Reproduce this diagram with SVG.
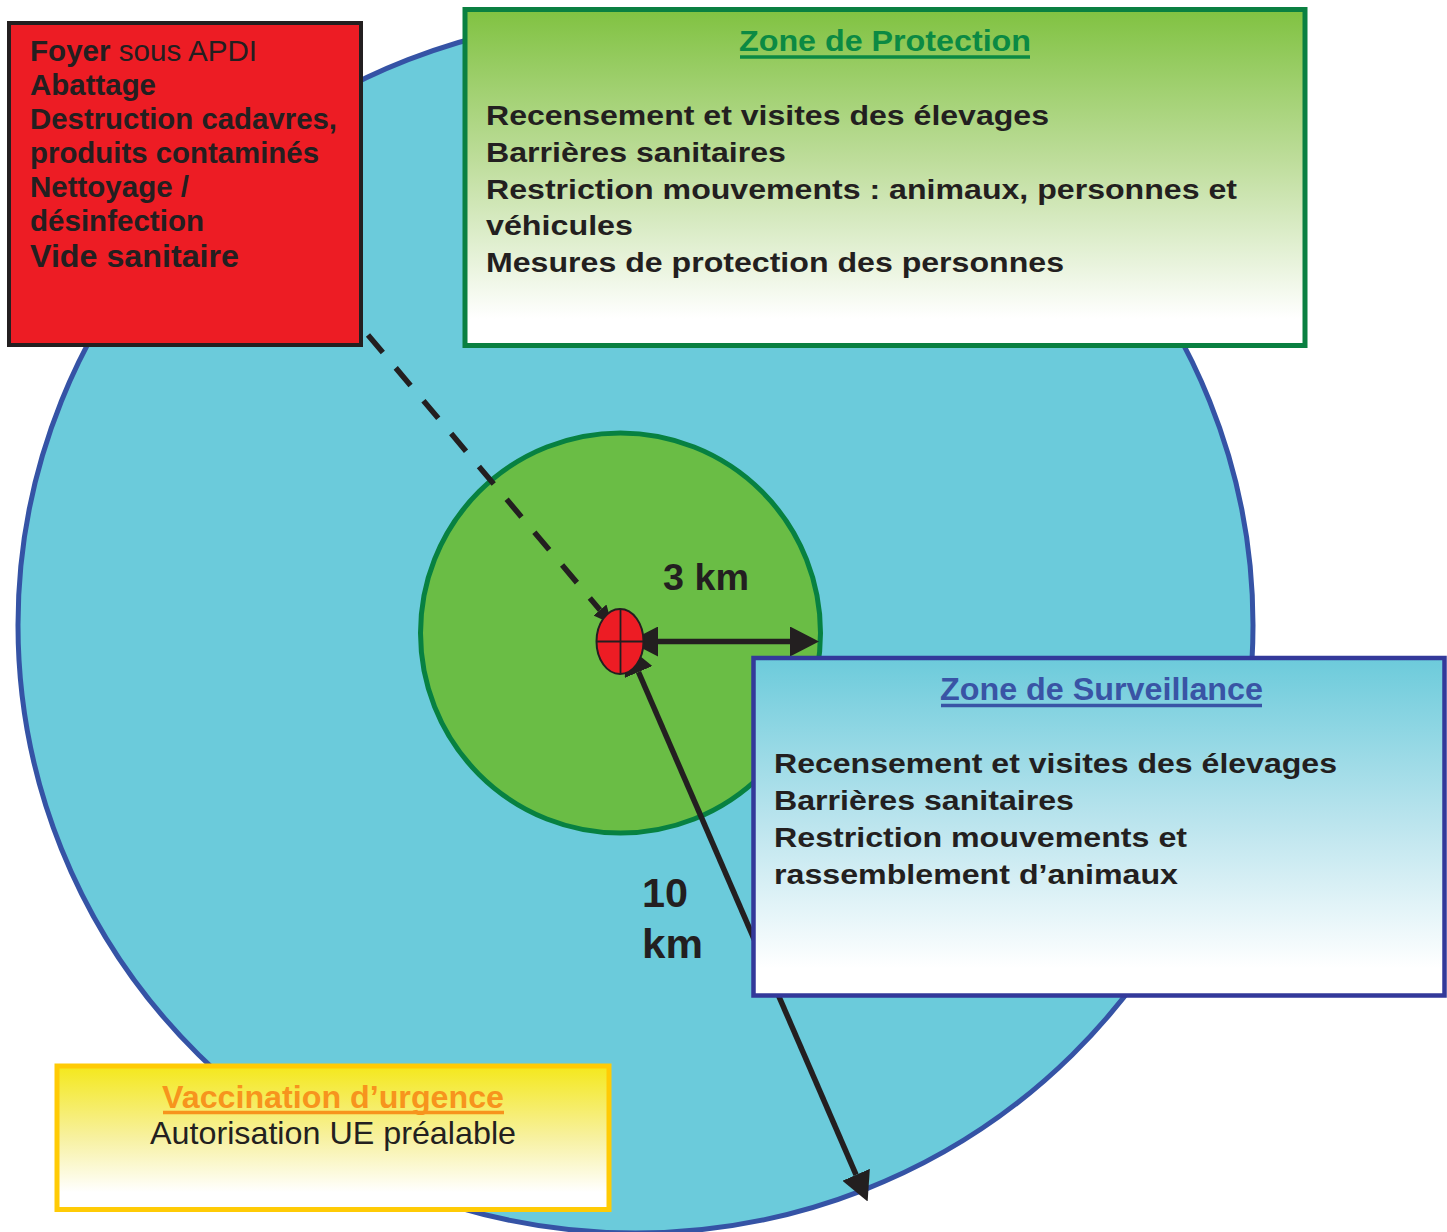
<svg xmlns="http://www.w3.org/2000/svg" width="1447" height="1232" viewBox="0 0 1447 1232">
  <defs>
    <style>
      .txt { font-family: "Liberation Sans", Arial, Helvetica, sans-serif; fill: #231F20; }
      .b { font-weight: bold; }
      .body { font-size: 28px; font-weight: bold; }
      .conn { stroke: #231F20; stroke-width: 5.5; fill: none; }
    </style>
    <linearGradient id="gradGreen" x1="0" y1="0" x2="0" y2="1">
      <stop offset="0" stop-color="#80C241"/>
      <stop offset="0.45" stop-color="#BEDD9B"/>
      <stop offset="0.92" stop-color="#FFFFFF"/>
    </linearGradient>
    <linearGradient id="gradBlue" x1="0" y1="0" x2="0" y2="1">
      <stop offset="0" stop-color="#6CCBDB"/>
      <stop offset="0.5" stop-color="#BDE5EE"/>
      <stop offset="0.92" stop-color="#FFFFFF"/>
    </linearGradient>
    <linearGradient id="gradYellow" x1="0" y1="0" x2="0" y2="1">
      <stop offset="0" stop-color="#F4E81C"/>
      <stop offset="0.5" stop-color="#F7F1A0"/>
      <stop offset="0.88" stop-color="#FFFFFF"/>
    </linearGradient>
    <marker id="arrowhead" markerUnits="userSpaceOnUse" markerWidth="29" markerHeight="30" viewBox="0 0 29 30" refX="0" refY="15" orient="auto-start-reverse">
      <path d="M0,0 L29,15 L0,30 z" fill="#231F20"/>
    </marker>
    <marker id="arrowheadSmall" markerUnits="userSpaceOnUse" markerWidth="18" markerHeight="17" viewBox="0 0 18 17" refX="0" refY="8.5" orient="auto">
      <path d="M0,0 L18,8.5 L0,17 z" fill="#231F20"/>
    </marker>
  </defs>

  <rect width="1447" height="1232" fill="#FFFFFF"/>

  <!-- 10 km surveillance area -->
  <g id="zone-surveillance-area">
    <ellipse cx="635.5" cy="625" rx="617.5" ry="608" fill="#6BCBDB" stroke="#3553A5" stroke-width="5"/>
  </g>

  <!-- 3 km protection area -->
  <g id="zone-protection-area">
    <circle cx="620.5" cy="633" r="200" fill="#6ABD45" stroke="#078141" stroke-width="5"/>
  </g>

  <!-- radius arrows and the link from the outbreak box -->
  <g id="connectors">
    <path class="conn" d="M368,335 L600,610" stroke-dasharray="23 20" marker-end="url(#arrowheadSmall)"/>
    <path class="conn" d="M658,641.5 L790,641.5" marker-start="url(#arrowhead)" marker-end="url(#arrowhead)"/>
    <path class="conn" d="M638.5,672 L856.1,1174.8" marker-start="url(#arrowhead)" marker-end="url(#arrowhead)"/>
  </g>

  <!-- outbreak marker -->
  <g id="foyer">
    <ellipse cx="620" cy="641.5" rx="23.5" ry="32.5" fill="#ED1C24" stroke="#231F20" stroke-width="2"/>
    <line x1="620.5" y1="609" x2="620.5" y2="674" stroke="#231F20" stroke-width="1.8"/>
    <line x1="596.5" y1="641.5" x2="643.5" y2="641.5" stroke="#231F20" stroke-width="1.8"/>
  </g>

  <g id="label-3km">
    <text class="txt b" x="663" y="590" font-size="36" textLength="86" lengthAdjust="spacingAndGlyphs">3 km</text>
  </g>

  <g id="label-10km">
    <text class="txt b" x="642" y="907" font-size="40" textLength="46" lengthAdjust="spacingAndGlyphs">10</text>
    <text class="txt b" x="642" y="958" font-size="40" textLength="61" lengthAdjust="spacingAndGlyphs">km</text>
  </g>

  <!-- measures at the outbreak -->
  <g id="box-foyer">
    <rect x="9" y="23" width="352" height="322" fill="#ED1C24" stroke="#231F20" stroke-width="4"/>
    <text class="txt" font-size="29" x="30" y="61" textLength="227" lengthAdjust="spacingAndGlyphs"><tspan font-weight="bold">Foyer</tspan> sous APDI</text>
    <text class="txt b" font-size="29" x="30" y="95" textLength="126" lengthAdjust="spacingAndGlyphs">Abattage</text>
    <text class="txt b" font-size="29" x="30" y="129" textLength="307" lengthAdjust="spacingAndGlyphs">Destruction cadavres,</text>
    <text class="txt b" font-size="29" x="30" y="163" textLength="289" lengthAdjust="spacingAndGlyphs">produits contaminés</text>
    <text class="txt b" font-size="29" x="30" y="197" textLength="159" lengthAdjust="spacingAndGlyphs">Nettoyage /</text>
    <text class="txt b" font-size="29" x="30" y="231" textLength="174" lengthAdjust="spacingAndGlyphs">désinfection</text>
    <text class="txt b" font-size="31" x="30" y="267" textLength="209" lengthAdjust="spacingAndGlyphs">Vide sanitaire</text>
  </g>

  <!-- protection zone measures -->
  <g id="box-protection">
    <rect x="465" y="9.5" width="840" height="336" fill="url(#gradGreen)" stroke="#0A8041" stroke-width="5"/>
    <text class="txt b" x="739" y="50.5" font-size="30" textLength="292" lengthAdjust="spacingAndGlyphs" style="fill:#0B8A43">Zone de Protection</text>
    <line x1="740" y1="57" x2="1030" y2="57" stroke="#0B8A43" stroke-width="3.5"/>
    <text class="txt body" x="486" y="124.5" textLength="563" lengthAdjust="spacingAndGlyphs">Recensement et visites des élevages</text>
    <text class="txt body" x="486" y="161.5" textLength="300" lengthAdjust="spacingAndGlyphs">Barrières sanitaires</text>
    <text class="txt body" x="486" y="198.5" textLength="751" lengthAdjust="spacingAndGlyphs">Restriction mouvements : animaux, personnes et</text>
    <text class="txt body" x="486" y="235" textLength="147" lengthAdjust="spacingAndGlyphs">véhicules</text>
    <text class="txt body" x="486" y="272" textLength="578" lengthAdjust="spacingAndGlyphs">Mesures de protection des personnes</text>
  </g>

  <!-- surveillance zone measures -->
  <g id="box-surveillance">
    <rect x="753.5" y="658" width="691" height="337.5" fill="url(#gradBlue)" stroke="#33399A" stroke-width="4.5"/>
    <text class="txt b" x="940" y="700" font-size="31" textLength="323" lengthAdjust="spacingAndGlyphs" style="fill:#3954A5">Zone de Surveillance</text>
    <line x1="941" y1="705.5" x2="1262" y2="705.5" stroke="#3954A5" stroke-width="3.5"/>
    <text class="txt body" x="774" y="772.5" textLength="563" lengthAdjust="spacingAndGlyphs">Recensement et visites des élevages</text>
    <text class="txt body" x="774" y="809.5" textLength="300" lengthAdjust="spacingAndGlyphs">Barrières sanitaires</text>
    <text class="txt body" x="774" y="846.5" textLength="413" lengthAdjust="spacingAndGlyphs">Restriction mouvements et</text>
    <text class="txt body" x="774" y="884" textLength="404" lengthAdjust="spacingAndGlyphs">rassemblement d’animaux</text>
  </g>

  <!-- emergency vaccination -->
  <g id="box-vaccination">
    <rect x="57" y="1066" width="552" height="143.5" fill="url(#gradYellow)" stroke="#FFCB05" stroke-width="5"/>
    <text class="txt b" x="162" y="1108" font-size="32" textLength="342" lengthAdjust="spacingAndGlyphs" style="fill:#F7941D">Vaccination d’urgence</text>
    <line x1="163" y1="1112.5" x2="504" y2="1112.5" stroke="#F7941D" stroke-width="3.5"/>
    <text class="txt" x="150" y="1143.5" font-size="32" textLength="366" lengthAdjust="spacingAndGlyphs">Autorisation UE préalable</text>
  </g>
</svg>
